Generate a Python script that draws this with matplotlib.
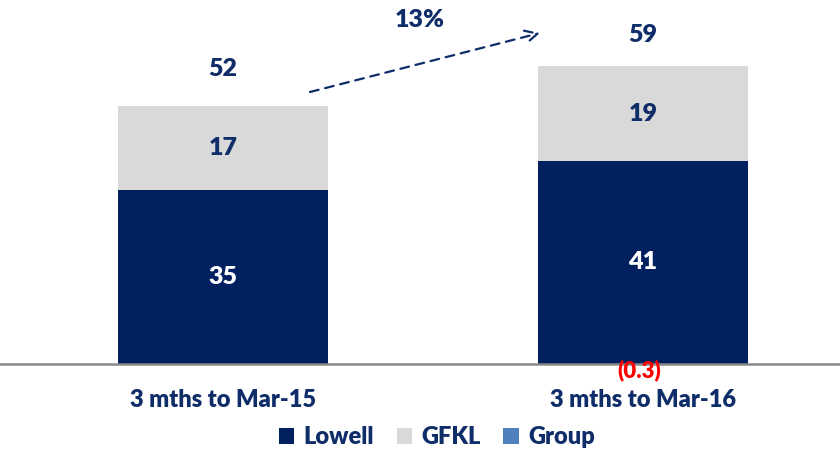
import matplotlib.pyplot as plt
import numpy as np

categories = ["3 mths to Mar-15", "3 mths to Mar-16"]
lowell = [35, 41]
gfkl = [17, 19]
group = [0.0, -0.3]
totals = [52, 59]
growth_label = "13%"

NAVY = "#002060"
GREY = "#D9D9D9"
BLUE = "#4F81BD"
TXT = "#0F2D69"

plt.rcParams['font.family'] = ['Lato', 'DejaVu Sans']
W = "heavy"

fig = plt.figure(figsize=(8.4, 4.49), dpi=100)
ax = fig.add_axes([0, (449 - 380) / 449, 1, 380 / 449])
x = np.arange(len(categories))
w = 0.5
ax.bar(x, lowell, w, color=NAVY, label="Lowell", zorder=2)
ax.bar(x, gfkl, w, bottom=lowell, color=GREY, label="GFKL", zorder=2)
ax.bar(x, group, w, color=BLUE, label="Group", zorder=2)

ppu = 4.96
ax.set_xlim(-223 / 420, 1 + (840 - 643) / 420)
ax.set_ylim(-16 / ppu, 364 / ppu)
ax.axhline(0, color="#898989", lw=1.8, zorder=3)
ax.axis("off")

for i in range(len(categories)):
    ax.text(x[i], lowell[i] / 2, f"{lowell[i]:.0f}", ha="center", va="center",
            color="white", fontsize=18, fontweight=W)
    ax.text(x[i], lowell[i] + gfkl[i] / 2, f"{gfkl[i]:.0f}", ha="center", va="center",
            color=TXT, fontsize=18, fontweight=W)
    ax.text(x[i], totals[i] + 7.4, f"{totals[i]:.0f}", ha="center", va="center",
            color=TXT, fontsize=18, fontweight=W)
    ax.text(x[i], -7.3, categories[i], ha="center", va="center",
            color=TXT, fontsize=17, fontweight=W)
    if group[i] != 0:
        ax.text(x[i] - 0.01, -1.2, f"({abs(group[i]):.1f})", ha="center", va="center",
                color="#FF0000", fontsize=16, fontweight=W, zorder=4)

ax.annotate("", xy=(540 / 420 - 223 / 420, (364 - 33) / ppu),
            xytext=(310 / 420 - 223 / 420, (364 - 92) / ppu),
            arrowprops=dict(arrowstyle="->,head_length=0.9,head_width=0.45",
                        color=TXT, lw=1.6, linestyle=(0, (4, 3)),
                        shrinkA=0, shrinkB=0))
ax.text(420 / 420 - 223 / 420, (364 - 20) / ppu, growth_label, ha="center", va="center",
        color=TXT, fontsize=18, fontweight=W)

leg = fig.legend(loc="center", bbox_to_anchor=(437 / 840, 1 - 437 / 449), ncol=3,
                 frameon=False, handlelength=0.65, handleheight=0.65, handletextpad=0.4,
                 columnspacing=0.95, prop=dict(size=17, weight=W))
for t in leg.get_texts():
    t.set_color(TXT)

fig.savefig("out.png", dpi=100)
